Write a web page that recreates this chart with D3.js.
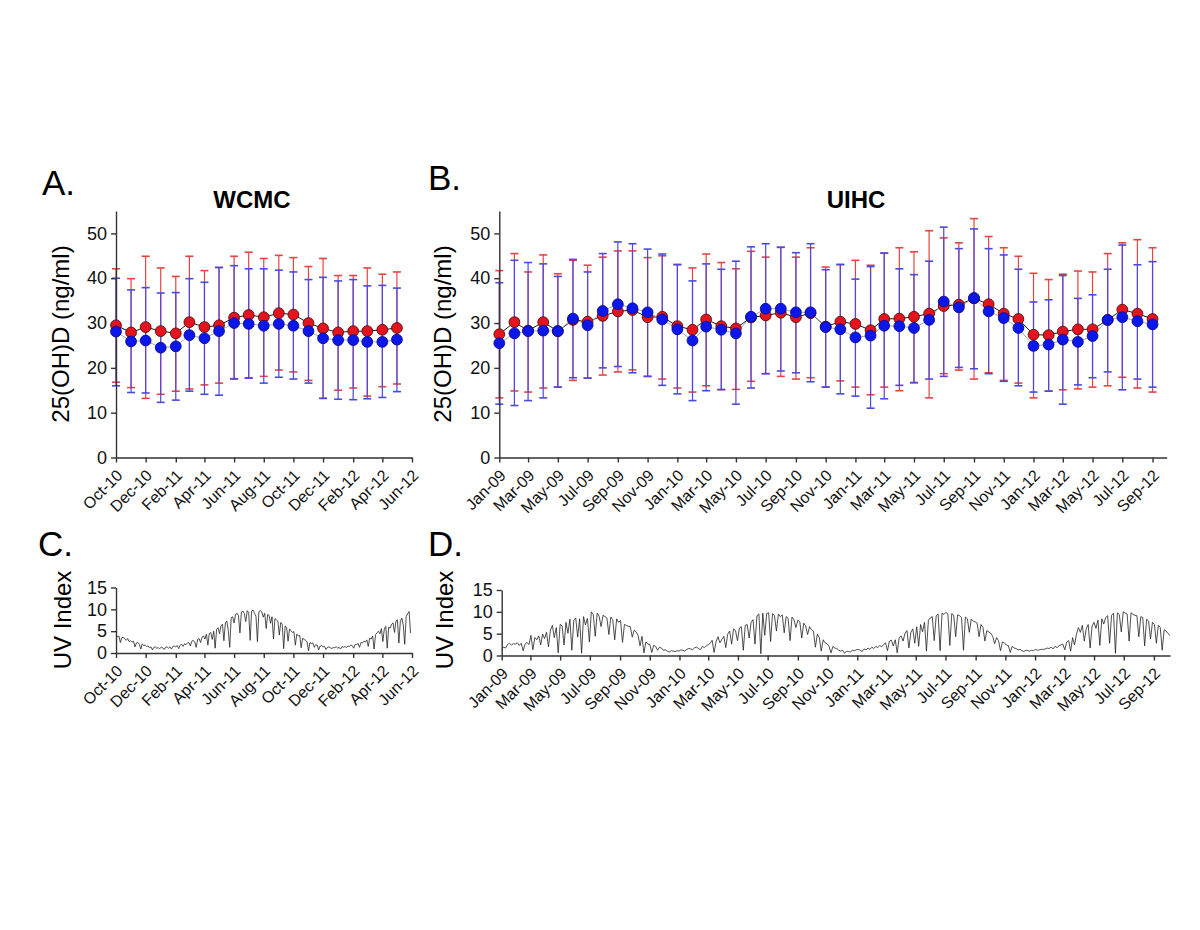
<!DOCTYPE html>
<html><head><meta charset="utf-8">
<script src="https://cdn.jsdelivr.net/npm/d3@7"></script>
<style>
html,body{margin:0;padding:0;background:#fff;}
svg{display:block;font-family:"Liberation Sans",Arial,sans-serif;}
</style></head>
<body><svg id="c" width="1200" height="930"></svg>
<script>
// ---------------- DATA ----------------
const wcmcMonths = ["2010-10","2010-11","2010-12","2011-01","2011-02","2011-03","2011-04","2011-05","2011-06","2011-07","2011-08","2011-09","2011-10","2011-11","2011-12","2012-01","2012-02","2012-03","2012-04","2012-05"];
const wcmcRed    = [29.5,27.9,29.1,28.2,27.7,30.2,29.1,29.5,31.2,31.8,31.3,32.2,31.9,30.0,28.8,27.9,28.2,28.2,28.5,28.9];
const wcmcBlue   = [28.1,25.9,26.1,24.5,24.8,27.3,26.6,28.2,30.0,29.8,29.4,29.8,29.4,28.2,26.6,26.2,26.2,25.8,25.8,26.3];
const wcmcRedHi  = [42.1,39.9,44.9,42.3,40.4,44.9,41.7,42.4,44.9,45.8,44.4,45.1,44.6,42.6,44.4,40.6,40.6,42.3,40.9,41.4];
const wcmcRedLo  = [16.8,15.6,13.2,14.1,14.8,15.3,16.2,16.6,17.6,17.8,18.1,19.5,19.1,17.2,13.2,15.0,15.5,13.7,15.8,16.4];
const wcmcBlueHi = [40.0,37.4,37.9,36.7,36.8,39.9,39.1,42.4,42.8,42.1,42.1,41.8,41.4,39.7,40.2,39.4,39.7,38.3,38.4,37.8];
const wcmcBlueLo = [16.0,14.5,14.4,12.3,12.8,14.8,14.1,13.9,17.5,17.7,16.6,17.9,17.5,16.6,13.2,13.0,12.9,13.1,13.4,14.7];

const uihcMonths = ["2009-01","2009-02","2009-03","2009-04","2009-05","2009-06","2009-07","2009-08","2009-09","2009-10","2009-11","2009-12",
  "2010-01","2010-02","2010-03","2010-04","2010-05","2010-06","2010-07","2010-08","2010-09","2010-10","2010-11","2010-12",
  "2011-01","2011-02","2011-03","2011-04","2011-05","2011-06","2011-07","2011-08","2011-09","2011-10","2011-11","2011-12",
  "2012-01","2012-02","2012-03","2012-04","2012-05","2012-06","2012-07","2012-08","2012-09"];
const uihcRed    = [27.5,30.2,28.3,30.2,28.2,30.7,30.3,31.6,32.6,32.9,31.3,31.4,29.3,28.5,30.8,29.3,28.8,31.25,31.7,32.3,31.3,32.2,29.2,30.3,29.8,28.4,30.9,31.0,31.4,32.1,33.8,34.1,35.5,34.2,32.1,30.9,27.4,27.3,28.1,28.6,28.6,30.7,33.0,32.1,30.9];
const uihcBlue   = [25.5,27.7,28.2,28.3,28.2,31.0,29.5,32.7,34.2,33.3,32.4,30.8,28.6,26.1,29.2,28.5,27.7,31.4,33.2,33.2,32.4,32.4,29.1,28.6,26.8,27.2,29.4,29.3,28.9,30.7,34.8,33.5,35.6,32.6,31.1,28.9,24.9,25.2,26.3,25.8,27.1,30.7,31.3,30.4,29.7];
const uihcRedHi  = [41.7,45.5,41.4,45.2,41.0,44.0,42.9,44.7,46.1,46.1,44.6,45.0,43.1,42.3,45.4,43.5,42.1,46.0,44.7,46.9,44.7,46.8,42.5,43.0,44.0,42.9,45.6,46.8,45.9,50.6,49.0,47.9,53.3,49.3,46.8,44.9,41.1,39.7,40.9,41.6,41.4,45.5,47.9,48.6,46.8];
const uihcRedLo  = [13.3,14.85,14.6,15.5,15.7,17.2,17.7,18.4,19.1,19.55,18.1,17.5,15.5,14.6,16.0,15.15,15.2,17.0,18.7,18.1,17.5,17.8,15.7,17.1,15.7,14.0,15.7,14.9,16.7,13.3,18.7,19.5,17.5,18.9,17.2,16.6,13.3,14.8,15.1,15.3,15.7,16.0,17.9,15.5,14.6];
const uihcBlueHi = [39.0,44.0,43.5,43.2,40.4,44.2,41.4,45.5,48.1,47.7,46.5,45.4,43.0,39.4,43.2,42.0,43.8,47.0,47.7,46.9,45.7,47.7,41.9,43.1,39.8,42.6,45.6,42.1,40.8,43.8,51.4,46.6,51.0,46.6,45.2,42.0,34.7,35.2,40.6,35.5,36.3,42.0,47.4,43.0,43.7];
const uihcBlueLo = [11.9,11.6,12.7,13.3,15.7,17.8,17.7,20.0,20.3,18.9,18.1,16.1,14.2,12.7,14.9,15.15,11.9,15.5,18.7,19.3,18.9,16.9,15.7,14.2,13.7,11.0,13.1,16.1,16.7,17.5,18.1,20.1,19.8,18.7,17.0,16.0,14.6,14.8,11.9,16.2,17.8,19.1,15.1,17.5,15.7];

const ticksWCMC = ["Oct-10","Dec-10","Feb-11","Apr-11","Jun-11","Aug-11","Oct-11","Dec-11","Feb-12","Apr-12","Jun-12"];
const ticksUIHC = ["Jan-09","Mar-09","May-09","Jul-09","Sep-09","Nov-09","Jan-10","Mar-10","May-10","Jul-10","Sep-10","Nov-10",
  "Jan-11","Mar-11","May-11","Jul-11","Sep-11","Nov-11","Jan-12","Mar-12","May-12","Jul-12","Sep-12"];
const ticksVitD = [0,10,20,30,40,50];
const ticksUV = [0,5,10,15];

// UV index, WCMC – one reading every 3 days from 1 Oct 2010
const uvStartC = "2010-10-01", uvStepC = 3;
const uvC = [
4.1,3.7,3.9,2.4,3.5,3.6,3.2,2.9,3.3,2.6,
2.8,2.5,2.7,1.4,2.3,2.4,2.0,0.9,2.1,1.7,
1.8,1.5,1.6,1.2,1.4,0.7,1.3,1.4,1.1,1.2,
1.0,1.3,1.2,0.8,1.3,1.4,1.1,1.4,0.9,1.5,
1.6,1.4,1.7,1.0,1.8,2.0,1.5,2.1,1.9,2.3,
2.4,1.6,2.7,2.9,2.5,1.3,3.1,3.3,2.4,3.6,
3.9,3.2,4.3,1.8,4.5,4.7,3.1,5.0,1.1,5.4,
5.8,4.4,6.2,6.6,2.8,6.9,7.3,5.2,1.3,8.1,
8.3,6.9,8.8,9.1,8.5,4.6,9.4,9.6,9.0,7.2,
9.7,9.3,2.9,9.6,9.8,9.1,8.4,2.6,9.5,9.7,
9.4,8.2,9.1,5.6,8.8,8.6,6.8,8.3,3.2,7.9,
7.6,7.3,4.1,7.0,6.6,1.0,6.2,5.9,2.7,5.5,
5.1,4.7,4.9,1.8,4.3,3.9,4.0,1.2,3.4,3.1,
2.9,2.6,0.5,2.4,2.2,2.3,1.3,1.9,1.8,0.7,
1.6,1.7,1.4,1.5,0.8,1.3,1.4,1.2,1.0,1.3,
1.2,1.4,1.1,1.3,0.9,1.5,1.3,1.5,1.2,1.6,
1.5,1.8,1.7,1.1,2.0,1.9,2.2,1.3,2.4,2.3,
2.7,2.5,3.0,1.5,3.4,3.2,3.9,0.9,4.2,4.6,
5.0,4.4,5.6,2.6,5.5,6.1,1.1,5.9,5.7,6.6,
6.9,4.7,7.3,7.6,2.3,7.2,8.0,6.4,2.0,8.3,
9.0,9.5,4.6];

// UV index, UIHC – one reading every 4 days from 1 Jan 2009
const uvStartD = "2009-01-01", uvStepD = 4;
const uvD = [
1.4,1.9,1.7,2.5,2.8,2.4,2.7,2.6, 2.9,2.3,2.8,1.1,2.6,3.0,2.5, 4.6,1.3,4.1,3.6,4.5,2.4,4.9,3.9,
5.3,2.0,5.8,6.9,4.1,6.4,0.6,7.1, 6.8,2.4,7.6,5.1,8.3,1.2,8.1, 8.6,4.2,8.4,0.5,8.9,7.0,8.5,3.1,
10.0,9.4,4.4,9.7,9.0,6.6,9.2, 8.9,8.6,4.8,8.8,8.2,3.6,8.4,7.6, 8.0,3.0,7.1,6.9,6.7,6.6,4.2,5.8,
5.4,4.6,2.2,4.4,0.6,3.1,2.6, 2.6,0.7,2.3,2.1,1.2,1.9,1.7,1.2, 1.3,1.0,0.8,1.1,1.0,0.9,1.1,
1.0,1.3,1.2,1.0,1.4,1.6,1.5,1.3, 1.8,1.9,1.6,1.3,2.1,1.8,2.2, 2.5,2.8,3.5,0.7,3.1,4.3,2.9,3.7,
4.4,1.8,4.9,5.6,2.6,6.1,5.7,3.4, 6.3,6.6,1.2,6.9,7.1,4.0,7.6, 8.2,2.6,9.1,9.5,0.4,9.7,4.6,9.6,
9.8,3.2,9.6,9.1,5.6,9.5,8.9, 9.3,5.2,8.9,8.5,3.4,8.8,8.2,6.4, 8.1,7.7,4.0,7.4,6.8,4.8,6.6,5.9,
5.6,1.9,4.9,4.1,1.0,3.6,2.9, 2.7,2.1,0.6,2.1,1.7,1.6,1.2,1.0, 1.2,0.5,1.0,0.9,0.8,1.2,1.1,
1.3,1.4,1.2,0.9,1.5,1.3,1.7,1.4, 1.9,1.6,2.1,1.8,2.3,2.0,2.5, 2.9,1.1,3.3,3.5,2.2,3.6,0.6,4.1,
4.5,3.3,5.1,5.7,1.7,5.3,6.1,2.8, 6.6,2.1,7.1,5.4,7.6,1.0,8.1, 8.6,8.9,3.4,9.1,9.5,1.1,9.7,9.4,
9.9,9.5,2.3,9.6,9.2,4.3,9.3, 9.1,8.7,1.2,8.8,8.4,5.3,8.3,7.9, 7.7,7.4,4.3,7.1,6.4,3.3,5.7,5.4,
5.1,4.4,2.7,4.1,3.4,1.1,3.1, 2.9,2.4,2.3,0.7,2.1,1.7,1.6,1.3, 1.4,1.1,0.9,1.2,1.1,1.0,1.2,
1.1,1.4,1.2,1.3,1.4,1.4,1.5,1.7, 1.6,1.9,1.5,2.1,1.8,2.2,2.4, 2.6,1.3,3.1,3.4,1.0,4.1,2.4,4.9,
6.4,5.3,6.9,3.3,6.1,7.1,1.7,6.7, 7.6,6.2,8.1,2.3,8.4,7.2,8.7, 9.1,2.8,9.2,9.7,0.5,9.8,9.3,5.4,
10.0,9.7,9.5,3.3,9.8,9.4,9.2, 9.1,4.3,8.9,8.7,2.2,8.3,7.9,3.8, 7.6,7.1,2.8,6.9,6.4,1.2,5.9,5.6,
5.0,4.6];

// ---------------- DRAWING ----------------
const svg = d3.select("#c");
svg.append("rect").attr("width",1200).attr("height",930).attr("fill","#fff");
const pm = d3.timeParse("%Y-%m");
const pt = d3.timeParse("%b-%y");
const pd = d3.timeParse("%Y-%m-%d");
const FONT = "'Liberation Sans',Arial,sans-serif";

function styleAxis(g){
  g.selectAll(".domain").attr("stroke","#333").attr("stroke-width",1.4);
  g.selectAll(".tick line").attr("stroke","#333").attr("stroke-width",1.4);
  g.selectAll("text").attr("fill","#111").attr("font-family",FONT);
}
function xAxis(g, x, labels, yPos){
  const ax = d3.axisBottom(x).tickValues(labels.map(pt)).tickFormat((d,i)=>labels[i])
    .tickSize(5).tickSizeOuter(0);
  const a = g.append("g").attr("transform",`translate(0,${yPos})`).call(ax);
  styleAxis(a);
  a.selectAll("text").attr("font-size",16).attr("text-anchor","end")
    .attr("x",0).attr("y",0).attr("dy","0.35em")
    .attr("transform","translate(3,15) rotate(-45)");
  return a;
}
function yAxis(g, y, ticks, xPos, fs){
  const ax = d3.axisLeft(y).tickValues(ticks).tickSize(5).tickPadding(4).tickSizeOuter(0);
  const a = g.append("g").attr("transform",`translate(${xPos},0)`).call(ax);
  styleAxis(a);
  a.selectAll("text").attr("font-size",fs);
  return a;
}

function vitD(cfg){
  const g = svg.append("g");
  const x = d3.scaleTime().domain(cfg.xDomain).range(cfg.xRange);
  const y = d3.scaleLinear().domain([0,55]).range([457.5,211]);
  const dates = cfg.months.map(pm);
  const series = [
    {v:cfg.red, hi:cfg.redHi, lo:cfg.redLo, bar:"#e64444", fill:"#e4141e", stroke:"#5a0a0a", line:"#1a1a1a"},
    {v:cfg.blue, hi:cfg.blueHi, lo:cfg.blueLo, bar:"#4a4ade", fill:"#0b16e8", stroke:"#0a0a9a", line:"#a8a8a8"}
  ];
  const cap = 4;
  series.forEach(s=>{
    const eg = g.append("g").attr("stroke",s.bar).attr("stroke-width",1.2);
    dates.forEach((d,i)=>{
      const xx = x(d);
      eg.append("line").attr("x1",xx).attr("x2",xx).attr("y1",y(s.hi[i])).attr("y2",y(s.lo[i]));
      eg.append("line").attr("x1",xx-cap).attr("x2",xx+cap).attr("y1",y(s.hi[i])).attr("y2",y(s.hi[i])).attr("stroke-width",1.6);
      eg.append("line").attr("x1",xx-cap).attr("x2",xx+cap).attr("y1",y(s.lo[i])).attr("y2",y(s.lo[i])).attr("stroke-width",1.6);
    });
  });
  yAxis(g, y, ticksVitD, cfg.xRange[0], 18);
  xAxis(g, x, cfg.ticks, 457.5);
  series.forEach(s=>{
    g.append("path").datum(s.v).attr("fill","none").attr("stroke",s.line).attr("stroke-width",1)
      .attr("d", d3.line().x((d,i)=>x(dates[i])).y(d=>y(d)));
  });
  series.forEach(s=>{
    g.append("g").selectAll("circle").data(s.v).join("circle")
      .attr("cx",(d,i)=>x(dates[i])).attr("cy",d=>y(d)).attr("r",5.4)
      .attr("fill",s.fill).attr("stroke",s.stroke).attr("stroke-width",0.9);
  });
  g.append("text").attr("x",cfg.titleX).attr("y",208).attr("text-anchor","middle")
    .attr("font-family",FONT).attr("font-weight","bold").attr("font-size",24).text(cfg.title);
  g.append("text").attr("transform",`translate(${cfg.labelX},334) rotate(-90)`).attr("text-anchor","middle")
    .attr("font-family",FONT).attr("font-size",24).text("25(OH)D (ng/ml)");
  g.append("text").attr("x",cfg.letterX).attr("y",cfg.letterY).attr("font-family",FONT).attr("font-size",35).text(cfg.letter);
}

function uv(cfg){
  const g = svg.append("g");
  const x = d3.scaleTime().domain(cfg.xDomain).range(cfg.xRange);
  const y = d3.scaleLinear().domain([0,15]).range(cfg.yRange);
  const start = pd(cfg.start);
  const dates = cfg.values.map((v,i)=>d3.timeDay.offset(start, i*cfg.step));
  g.append("path").datum(cfg.values).attr("fill","none").attr("stroke","#222").attr("stroke-width",0.8)
    .attr("d", d3.line().x((d,i)=>x(dates[i])).y(d=>y(d)));
  yAxis(g, y, ticksUV, cfg.xRange[0], 18);
  xAxis(g, x, cfg.ticks, cfg.yRange[0]);
  g.append("text").attr("transform",`translate(${cfg.labelX},620) rotate(-90)`).attr("text-anchor","middle")
    .attr("font-family",FONT).attr("font-size",24).text("UV Index");
  g.append("text").attr("x",cfg.letterX).attr("y",cfg.letterY).attr("font-family",FONT).attr("font-size",35).text(cfg.letter);
}

vitD({months:wcmcMonths, red:wcmcRed, blue:wcmcBlue, redHi:wcmcRedHi, redLo:wcmcRedLo, blueHi:wcmcBlueHi, blueLo:wcmcBlueLo,
  xDomain:[pd("2010-10-01"), pd("2012-06-01")], xRange:[116,412], ticks:ticksWCMC,
  title:"WCMC", titleX:252, labelX:69, letter:"A.", letterX:42, letterY:195});
vitD({months:uihcMonths, red:uihcRed, blue:uihcBlue, redHi:uihcRedHi, redLo:uihcRedLo, blueHi:uihcBlueHi, blueLo:uihcBlueLo,
  xDomain:[pd("2009-01-01"), pd("2012-09-30")], xRange:[499.3,1166.7], ticks:ticksUIHC,
  title:"UIHC", titleX:856, labelX:451, letter:"B.", letterX:428, letterY:190});
uv({values:uvC, start:uvStartC, step:uvStepC, xDomain:[pd("2010-10-01"), pd("2012-06-01")], xRange:[116,412],
  yRange:[653,587.5], ticks:ticksWCMC, labelX:71, letter:"C.", letterX:38, letterY:556});
uv({values:uvD, start:uvStartD, step:uvStepD, xDomain:[pd("2009-01-01"), pd("2012-10-04")], xRange:[501.7,1170],
  yRange:[655.5,590], ticks:ticksUIHC, labelX:453, letter:"D.", letterX:428, letterY:556});
</script></body></html>
